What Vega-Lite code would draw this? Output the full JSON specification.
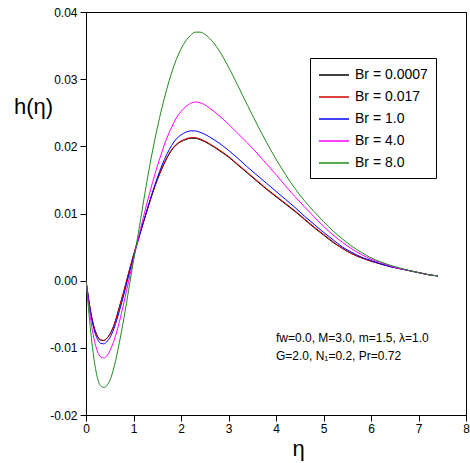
{
  "$schema": "https://vega.github.io/schema/vega-lite/v6.json",
  "autosize": {"type": "none"},
  "padding": {"left": 86, "top": 12, "right": 4, "bottom": 48},
  "width": 380,
  "height": 403,
  "config": {
    "font": "Liberation Sans",
    "view": {"stroke": "#000000", "strokeWidth": 1},
    "axis": {"labelFont": "Liberation Sans", "titleFont": "Liberation Sans", "labelColor": "#000", "titleColor": "#000", "domainColor": "#000", "tickColor": "#000", "grid": false, "labelFontSize": 12, "titleFontWeight": "normal"}
  },
  "datasets": {
    "curves": [
      {"eta":0,"h":0,"Br":"Br = 0.0007"},{"eta":0.05,"h":-0.0025,"Br":"Br = 0.0007"},{"eta":0.1,"h":-0.0047,"Br":"Br = 0.0007"},{"eta":0.15,"h":-0.0064,"Br":"Br = 0.0007"},{"eta":0.2,"h":-0.0076,"Br":"Br = 0.0007"},{"eta":0.25,"h":-0.0084,"Br":"Br = 0.0007"},{"eta":0.3,"h":-0.0088,"Br":"Br = 0.0007"},{"eta":0.37,"h":-0.0089,"Br":"Br = 0.0007"},{"eta":0.45,"h":-0.0085,"Br":"Br = 0.0007"},{"eta":0.5,"h":-0.008,"Br":"Br = 0.0007"},{"eta":0.6,"h":-0.0064,"Br":"Br = 0.0007"},{"eta":0.7,"h":-0.004,"Br":"Br = 0.0007"},{"eta":0.8,"h":-0.0015,"Br":"Br = 0.0007"},{"eta":0.9,"h":0.0012,"Br":"Br = 0.0007"},{"eta":1.0,"h":0.0038,"Br":"Br = 0.0007"},{"eta":1.1,"h":0.0062,"Br":"Br = 0.0007"},{"eta":1.2,"h":0.0085,"Br":"Br = 0.0007"},{"eta":1.3,"h":0.0108,"Br":"Br = 0.0007"},{"eta":1.4,"h":0.013,"Br":"Br = 0.0007"},{"eta":1.5,"h":0.015,"Br":"Br = 0.0007"},{"eta":1.6,"h":0.0167,"Br":"Br = 0.0007"},{"eta":1.7,"h":0.0182,"Br":"Br = 0.0007"},{"eta":1.8,"h":0.0194,"Br":"Br = 0.0007"},{"eta":1.9,"h":0.0202,"Br":"Br = 0.0007"},{"eta":2.0,"h":0.0207,"Br":"Br = 0.0007"},{"eta":2.1,"h":0.021,"Br":"Br = 0.0007"},{"eta":2.2,"h":0.0212,"Br":"Br = 0.0007"},{"eta":2.3,"h":0.0212,"Br":"Br = 0.0007"},{"eta":2.4,"h":0.021,"Br":"Br = 0.0007"},{"eta":2.5,"h":0.0207,"Br":"Br = 0.0007"},{"eta":2.6,"h":0.0203,"Br":"Br = 0.0007"},{"eta":2.8,"h":0.0194,"Br":"Br = 0.0007"},{"eta":3.0,"h":0.0184,"Br":"Br = 0.0007"},{"eta":3.2,"h":0.0172,"Br":"Br = 0.0007"},{"eta":3.4,"h":0.016,"Br":"Br = 0.0007"},{"eta":3.6,"h":0.0148,"Br":"Br = 0.0007"},{"eta":3.8,"h":0.0136,"Br":"Br = 0.0007"},{"eta":4.0,"h":0.0125,"Br":"Br = 0.0007"},{"eta":4.2,"h":0.0114,"Br":"Br = 0.0007"},{"eta":4.4,"h":0.0103,"Br":"Br = 0.0007"},{"eta":4.6,"h":0.0091,"Br":"Br = 0.0007"},{"eta":4.8,"h":0.0079,"Br":"Br = 0.0007"},{"eta":5.0,"h":0.0068,"Br":"Br = 0.0007"},{"eta":5.2,"h":0.0057,"Br":"Br = 0.0007"},{"eta":5.4,"h":0.0048,"Br":"Br = 0.0007"},{"eta":5.6,"h":0.004,"Br":"Br = 0.0007"},{"eta":5.8,"h":0.0034,"Br":"Br = 0.0007"},{"eta":6.0,"h":0.0029,"Br":"Br = 0.0007"},{"eta":6.2,"h":0.0025,"Br":"Br = 0.0007"},{"eta":6.4,"h":0.0021,"Br":"Br = 0.0007"},{"eta":6.6,"h":0.0018,"Br":"Br = 0.0007"},{"eta":6.8,"h":0.0015,"Br":"Br = 0.0007"},{"eta":7.0,"h":0.0012,"Br":"Br = 0.0007"},{"eta":7.2,"h":0.0009,"Br":"Br = 0.0007"},{"eta":7.41,"h":0.0007,"Br":"Br = 0.0007"},

      {"eta":0,"h":0,"Br":"Br = 0.017"},{"eta":0.05,"h":-0.0025,"Br":"Br = 0.017"},{"eta":0.1,"h":-0.0047,"Br":"Br = 0.017"},{"eta":0.15,"h":-0.0064,"Br":"Br = 0.017"},{"eta":0.2,"h":-0.0076,"Br":"Br = 0.017"},{"eta":0.25,"h":-0.0084,"Br":"Br = 0.017"},{"eta":0.3,"h":-0.0088,"Br":"Br = 0.017"},{"eta":0.37,"h":-0.0089,"Br":"Br = 0.017"},{"eta":0.45,"h":-0.0085,"Br":"Br = 0.017"},{"eta":0.5,"h":-0.008,"Br":"Br = 0.017"},{"eta":0.6,"h":-0.0064,"Br":"Br = 0.017"},{"eta":0.7,"h":-0.004,"Br":"Br = 0.017"},{"eta":0.8,"h":-0.0015,"Br":"Br = 0.017"},{"eta":0.9,"h":0.0012,"Br":"Br = 0.017"},{"eta":1.0,"h":0.0038,"Br":"Br = 0.017"},{"eta":1.1,"h":0.0062,"Br":"Br = 0.017"},{"eta":1.2,"h":0.0085,"Br":"Br = 0.017"},{"eta":1.3,"h":0.0108,"Br":"Br = 0.017"},{"eta":1.4,"h":0.013,"Br":"Br = 0.017"},{"eta":1.5,"h":0.0151,"Br":"Br = 0.017"},{"eta":1.6,"h":0.0168,"Br":"Br = 0.017"},{"eta":1.7,"h":0.0183,"Br":"Br = 0.017"},{"eta":1.8,"h":0.0195,"Br":"Br = 0.017"},{"eta":1.9,"h":0.0203,"Br":"Br = 0.017"},{"eta":2.0,"h":0.0208,"Br":"Br = 0.017"},{"eta":2.1,"h":0.0211,"Br":"Br = 0.017"},{"eta":2.2,"h":0.0213,"Br":"Br = 0.017"},{"eta":2.3,"h":0.0213,"Br":"Br = 0.017"},{"eta":2.4,"h":0.0211,"Br":"Br = 0.017"},{"eta":2.5,"h":0.0208,"Br":"Br = 0.017"},{"eta":2.6,"h":0.0204,"Br":"Br = 0.017"},{"eta":2.8,"h":0.0195,"Br":"Br = 0.017"},{"eta":3.0,"h":0.0185,"Br":"Br = 0.017"},{"eta":3.2,"h":0.0173,"Br":"Br = 0.017"},{"eta":3.4,"h":0.0161,"Br":"Br = 0.017"},{"eta":3.6,"h":0.0149,"Br":"Br = 0.017"},{"eta":3.8,"h":0.0137,"Br":"Br = 0.017"},{"eta":4.0,"h":0.0126,"Br":"Br = 0.017"},{"eta":4.2,"h":0.0115,"Br":"Br = 0.017"},{"eta":4.4,"h":0.0104,"Br":"Br = 0.017"},{"eta":4.6,"h":0.0092,"Br":"Br = 0.017"},{"eta":4.8,"h":0.008,"Br":"Br = 0.017"},{"eta":5.0,"h":0.0069,"Br":"Br = 0.017"},{"eta":5.2,"h":0.0058,"Br":"Br = 0.017"},{"eta":5.4,"h":0.0048,"Br":"Br = 0.017"},{"eta":5.6,"h":0.004,"Br":"Br = 0.017"},{"eta":5.8,"h":0.0034,"Br":"Br = 0.017"},{"eta":6.0,"h":0.0029,"Br":"Br = 0.017"},{"eta":6.2,"h":0.0025,"Br":"Br = 0.017"},{"eta":6.4,"h":0.0021,"Br":"Br = 0.017"},{"eta":6.6,"h":0.0018,"Br":"Br = 0.017"},{"eta":6.8,"h":0.0015,"Br":"Br = 0.017"},{"eta":7.0,"h":0.0012,"Br":"Br = 0.017"},{"eta":7.2,"h":0.0009,"Br":"Br = 0.017"},{"eta":7.41,"h":0.0007,"Br":"Br = 0.017"},

      {"eta":0,"h":0,"Br":"Br = 1.0"},{"eta":0.05,"h":-0.0026,"Br":"Br = 1.0"},{"eta":0.1,"h":-0.0049,"Br":"Br = 1.0"},{"eta":0.15,"h":-0.0067,"Br":"Br = 1.0"},{"eta":0.2,"h":-0.008,"Br":"Br = 1.0"},{"eta":0.25,"h":-0.0088,"Br":"Br = 1.0"},{"eta":0.3,"h":-0.0093,"Br":"Br = 1.0"},{"eta":0.37,"h":-0.0094,"Br":"Br = 1.0"},{"eta":0.45,"h":-0.009,"Br":"Br = 1.0"},{"eta":0.5,"h":-0.0085,"Br":"Br = 1.0"},{"eta":0.6,"h":-0.0069,"Br":"Br = 1.0"},{"eta":0.7,"h":-0.0046,"Br":"Br = 1.0"},{"eta":0.8,"h":-0.002,"Br":"Br = 1.0"},{"eta":0.9,"h":0.0008,"Br":"Br = 1.0"},{"eta":1.0,"h":0.0035,"Br":"Br = 1.0"},{"eta":1.1,"h":0.006,"Br":"Br = 1.0"},{"eta":1.2,"h":0.0085,"Br":"Br = 1.0"},{"eta":1.3,"h":0.0109,"Br":"Br = 1.0"},{"eta":1.4,"h":0.0132,"Br":"Br = 1.0"},{"eta":1.5,"h":0.0153,"Br":"Br = 1.0"},{"eta":1.6,"h":0.0172,"Br":"Br = 1.0"},{"eta":1.7,"h":0.0188,"Br":"Br = 1.0"},{"eta":1.8,"h":0.0201,"Br":"Br = 1.0"},{"eta":1.9,"h":0.0211,"Br":"Br = 1.0"},{"eta":2.0,"h":0.0217,"Br":"Br = 1.0"},{"eta":2.1,"h":0.0221,"Br":"Br = 1.0"},{"eta":2.2,"h":0.0223,"Br":"Br = 1.0"},{"eta":2.3,"h":0.0223,"Br":"Br = 1.0"},{"eta":2.4,"h":0.0221,"Br":"Br = 1.0"},{"eta":2.5,"h":0.0218,"Br":"Br = 1.0"},{"eta":2.6,"h":0.0214,"Br":"Br = 1.0"},{"eta":2.8,"h":0.0205,"Br":"Br = 1.0"},{"eta":3.0,"h":0.0194,"Br":"Br = 1.0"},{"eta":3.2,"h":0.0182,"Br":"Br = 1.0"},{"eta":3.4,"h":0.0169,"Br":"Br = 1.0"},{"eta":3.6,"h":0.0157,"Br":"Br = 1.0"},{"eta":3.8,"h":0.0145,"Br":"Br = 1.0"},{"eta":4.0,"h":0.0133,"Br":"Br = 1.0"},{"eta":4.2,"h":0.0121,"Br":"Br = 1.0"},{"eta":4.4,"h":0.0109,"Br":"Br = 1.0"},{"eta":4.6,"h":0.0096,"Br":"Br = 1.0"},{"eta":4.8,"h":0.0084,"Br":"Br = 1.0"},{"eta":5.0,"h":0.0072,"Br":"Br = 1.0"},{"eta":5.2,"h":0.0061,"Br":"Br = 1.0"},{"eta":5.4,"h":0.005,"Br":"Br = 1.0"},{"eta":5.6,"h":0.0042,"Br":"Br = 1.0"},{"eta":5.8,"h":0.0035,"Br":"Br = 1.0"},{"eta":6.0,"h":0.003,"Br":"Br = 1.0"},{"eta":6.2,"h":0.0025,"Br":"Br = 1.0"},{"eta":6.4,"h":0.0021,"Br":"Br = 1.0"},{"eta":6.6,"h":0.0018,"Br":"Br = 1.0"},{"eta":6.8,"h":0.0015,"Br":"Br = 1.0"},{"eta":7.0,"h":0.0012,"Br":"Br = 1.0"},{"eta":7.2,"h":0.0009,"Br":"Br = 1.0"},{"eta":7.41,"h":0.0007,"Br":"Br = 1.0"},

      {"eta":0,"h":0,"Br":"Br = 4.0"},{"eta":0.05,"h":-0.003,"Br":"Br = 4.0"},{"eta":0.1,"h":-0.0058,"Br":"Br = 4.0"},{"eta":0.15,"h":-0.008,"Br":"Br = 4.0"},{"eta":0.2,"h":-0.0096,"Br":"Br = 4.0"},{"eta":0.25,"h":-0.0107,"Br":"Br = 4.0"},{"eta":0.3,"h":-0.0113,"Br":"Br = 4.0"},{"eta":0.37,"h":-0.0115,"Br":"Br = 4.0"},{"eta":0.45,"h":-0.0111,"Br":"Br = 4.0"},{"eta":0.5,"h":-0.0105,"Br":"Br = 4.0"},{"eta":0.6,"h":-0.0087,"Br":"Br = 4.0"},{"eta":0.7,"h":-0.0062,"Br":"Br = 4.0"},{"eta":0.8,"h":-0.0032,"Br":"Br = 4.0"},{"eta":0.9,"h":0.0,"Br":"Br = 4.0"},{"eta":1.0,"h":0.0032,"Br":"Br = 4.0"},{"eta":1.1,"h":0.0063,"Br":"Br = 4.0"},{"eta":1.2,"h":0.0092,"Br":"Br = 4.0"},{"eta":1.3,"h":0.012,"Br":"Br = 4.0"},{"eta":1.4,"h":0.0146,"Br":"Br = 4.0"},{"eta":1.5,"h":0.017,"Br":"Br = 4.0"},{"eta":1.6,"h":0.0192,"Br":"Br = 4.0"},{"eta":1.7,"h":0.0212,"Br":"Br = 4.0"},{"eta":1.8,"h":0.0228,"Br":"Br = 4.0"},{"eta":1.9,"h":0.0242,"Br":"Br = 4.0"},{"eta":2.0,"h":0.0252,"Br":"Br = 4.0"},{"eta":2.1,"h":0.0259,"Br":"Br = 4.0"},{"eta":2.2,"h":0.0264,"Br":"Br = 4.0"},{"eta":2.3,"h":0.0266,"Br":"Br = 4.0"},{"eta":2.4,"h":0.0265,"Br":"Br = 4.0"},{"eta":2.5,"h":0.0262,"Br":"Br = 4.0"},{"eta":2.6,"h":0.0257,"Br":"Br = 4.0"},{"eta":2.8,"h":0.0246,"Br":"Br = 4.0"},{"eta":3.0,"h":0.0233,"Br":"Br = 4.0"},{"eta":3.2,"h":0.0219,"Br":"Br = 4.0"},{"eta":3.4,"h":0.0205,"Br":"Br = 4.0"},{"eta":3.6,"h":0.019,"Br":"Br = 4.0"},{"eta":3.8,"h":0.0174,"Br":"Br = 4.0"},{"eta":4.0,"h":0.0158,"Br":"Br = 4.0"},{"eta":4.2,"h":0.0141,"Br":"Br = 4.0"},{"eta":4.4,"h":0.0125,"Br":"Br = 4.0"},{"eta":4.6,"h":0.011,"Br":"Br = 4.0"},{"eta":4.8,"h":0.0095,"Br":"Br = 4.0"},{"eta":5.0,"h":0.0081,"Br":"Br = 4.0"},{"eta":5.2,"h":0.0068,"Br":"Br = 4.0"},{"eta":5.4,"h":0.0057,"Br":"Br = 4.0"},{"eta":5.6,"h":0.0047,"Br":"Br = 4.0"},{"eta":5.8,"h":0.0039,"Br":"Br = 4.0"},{"eta":6.0,"h":0.0032,"Br":"Br = 4.0"},{"eta":6.2,"h":0.0027,"Br":"Br = 4.0"},{"eta":6.4,"h":0.0022,"Br":"Br = 4.0"},{"eta":6.6,"h":0.0018,"Br":"Br = 4.0"},{"eta":6.8,"h":0.0015,"Br":"Br = 4.0"},{"eta":7.0,"h":0.0012,"Br":"Br = 4.0"},{"eta":7.2,"h":0.0009,"Br":"Br = 4.0"},{"eta":7.41,"h":0.0007,"Br":"Br = 4.0"},

      {"eta":0,"h":0,"Br":"Br = 8.0"},{"eta":0.05,"h":-0.004,"Br":"Br = 8.0"},{"eta":0.1,"h":-0.0077,"Br":"Br = 8.0"},{"eta":0.15,"h":-0.0107,"Br":"Br = 8.0"},{"eta":0.2,"h":-0.0131,"Br":"Br = 8.0"},{"eta":0.25,"h":-0.0147,"Br":"Br = 8.0"},{"eta":0.3,"h":-0.0156,"Br":"Br = 8.0"},{"eta":0.38,"h":-0.0159,"Br":"Br = 8.0"},{"eta":0.45,"h":-0.0155,"Br":"Br = 8.0"},{"eta":0.5,"h":-0.0149,"Br":"Br = 8.0"},{"eta":0.6,"h":-0.0126,"Br":"Br = 8.0"},{"eta":0.7,"h":-0.0093,"Br":"Br = 8.0"},{"eta":0.8,"h":-0.0055,"Br":"Br = 8.0"},{"eta":0.9,"h":-0.0013,"Br":"Br = 8.0"},{"eta":1.0,"h":0.003,"Br":"Br = 8.0"},{"eta":1.1,"h":0.007,"Br":"Br = 8.0"},{"eta":1.2,"h":0.0113,"Br":"Br = 8.0"},{"eta":1.3,"h":0.0155,"Br":"Br = 8.0"},{"eta":1.4,"h":0.0193,"Br":"Br = 8.0"},{"eta":1.5,"h":0.0227,"Br":"Br = 8.0"},{"eta":1.6,"h":0.0258,"Br":"Br = 8.0"},{"eta":1.7,"h":0.0285,"Br":"Br = 8.0"},{"eta":1.8,"h":0.0309,"Br":"Br = 8.0"},{"eta":1.9,"h":0.0329,"Br":"Br = 8.0"},{"eta":2.0,"h":0.0345,"Br":"Br = 8.0"},{"eta":2.1,"h":0.0357,"Br":"Br = 8.0"},{"eta":2.2,"h":0.0365,"Br":"Br = 8.0"},{"eta":2.3,"h":0.037,"Br":"Br = 8.0"},{"eta":2.4,"h":0.037,"Br":"Br = 8.0"},{"eta":2.5,"h":0.0367,"Br":"Br = 8.0"},{"eta":2.6,"h":0.0361,"Br":"Br = 8.0"},{"eta":2.8,"h":0.0343,"Br":"Br = 8.0"},{"eta":3.0,"h":0.0318,"Br":"Br = 8.0"},{"eta":3.2,"h":0.029,"Br":"Br = 8.0"},{"eta":3.4,"h":0.0261,"Br":"Br = 8.0"},{"eta":3.6,"h":0.0233,"Br":"Br = 8.0"},{"eta":3.8,"h":0.0206,"Br":"Br = 8.0"},{"eta":4.0,"h":0.0181,"Br":"Br = 8.0"},{"eta":4.2,"h":0.0158,"Br":"Br = 8.0"},{"eta":4.4,"h":0.0137,"Br":"Br = 8.0"},{"eta":4.6,"h":0.0119,"Br":"Br = 8.0"},{"eta":4.8,"h":0.0103,"Br":"Br = 8.0"},{"eta":5.0,"h":0.0088,"Br":"Br = 8.0"},{"eta":5.2,"h":0.0074,"Br":"Br = 8.0"},{"eta":5.4,"h":0.0062,"Br":"Br = 8.0"},{"eta":5.6,"h":0.0051,"Br":"Br = 8.0"},{"eta":5.8,"h":0.0042,"Br":"Br = 8.0"},{"eta":6.0,"h":0.0034,"Br":"Br = 8.0"},{"eta":6.2,"h":0.0028,"Br":"Br = 8.0"},{"eta":6.4,"h":0.0023,"Br":"Br = 8.0"},{"eta":6.6,"h":0.0019,"Br":"Br = 8.0"},{"eta":6.8,"h":0.0015,"Br":"Br = 8.0"},{"eta":7.0,"h":0.0012,"Br":"Br = 8.0"},{"eta":7.2,"h":0.0009,"Br":"Br = 8.0"},{"eta":7.41,"h":0.0007,"Br":"Br = 8.0"}
    ],
    "notes": [
      {"tx": 4.0, "ty": -0.0085, "label": "fw=0.0, M=3.0, m=1.5, λ=1.0"},
      {"tx": 4.0, "ty": -0.0112, "label": "G=2.0, N₁=0.2, Pr=0.72"}
    ]
  },
  "layer": [
    {
      "data": {"name": "curves"},
      "mark": {"type": "line", "interpolate": "monotone", "strokeWidth": 1, "clip": true},
      "encoding": {
        "x": {
          "field": "eta", "type": "quantitative",
          "scale": {"domain": [0, 8], "nice": false, "zero": false},
          "axis": {
            "title": "η", "titleFontSize": 22, "titleX": 212, "titleY": 40, "titleAlign": "center", "titleBaseline": "alphabetic",
            "values": [0,0.5,1,1.5,2,2.5,3,3.5,4,4.5,5,5.5,6,6.5,7,7.5,8],
            "labelExpr": "datum.value % 1 == 0 ? format(datum.value, 'd') : ''",
            "tickSize": {"condition": {"test": "datum.value % 1 == 0", "value": 6}, "value": 3},
            "labelPadding": 2, "labelFlush": false, "labelOverlap": false
          }
        },
        "y": {
          "field": "h", "type": "quantitative",
          "scale": {"domain": [-0.02, 0.04], "nice": false, "zero": false},
          "axis": {
            "title": "h(η)", "titleFontSize": 22, "titleAngle": 0, "titleX": -53, "titleY": 94, "titleAlign": "center", "titleBaseline": "middle",
            "values": [-0.02,-0.015,-0.01,-0.005,0,0.005,0.01,0.015,0.02,0.025,0.03,0.035,0.04],
            "labelExpr": "abs(datum.value*100 - round(datum.value*100)) < 0.000001 ? replace(format(datum.value, '.2f'), '\u2212', '-') : ''",
            "tickSize": {"condition": {"test": "abs(datum.value*100 - round(datum.value*100)) < 0.000001", "value": 6}, "value": 3},
            "labelPadding": 3, "labelFlush": false, "labelOverlap": false
          }
        },
        "color": {
          "field": "Br", "type": "nominal",
          "scale": {
            "domain": ["Br = 0.0007", "Br = 0.017", "Br = 1.0", "Br = 4.0", "Br = 8.0"],
            "range": ["#000000", "#d40000", "#0000ff", "#ff00ff", "#1e8c1e"]
          },
          "legend": {
            "title": null, "orient": "none", "legendX": 224, "legendY": 46,
            "strokeColor": "#000000", "fillColor": "#ffffff", "padding": 8,
            "symbolType": "M-1,0H2.75", "symbolSize": 256, "symbolStrokeWidth": 1.5,
            "labelFontSize": 14, "labelFont": "Liberation Sans", "labelColor": "#000", "labelOffset": 19, "rowPadding": 6
          }
        }
      }
    },
    {
      "data": {"name": "notes"},
      "mark": {"type": "text", "align": "left", "baseline": "middle", "fontSize": 12, "font": "Liberation Sans", "color": "#000"},
      "encoding": {
        "x": {"field": "tx", "type": "quantitative"},
        "y": {"field": "ty", "type": "quantitative"},
        "text": {"field": "label"}
      }
    }
  ]
}
